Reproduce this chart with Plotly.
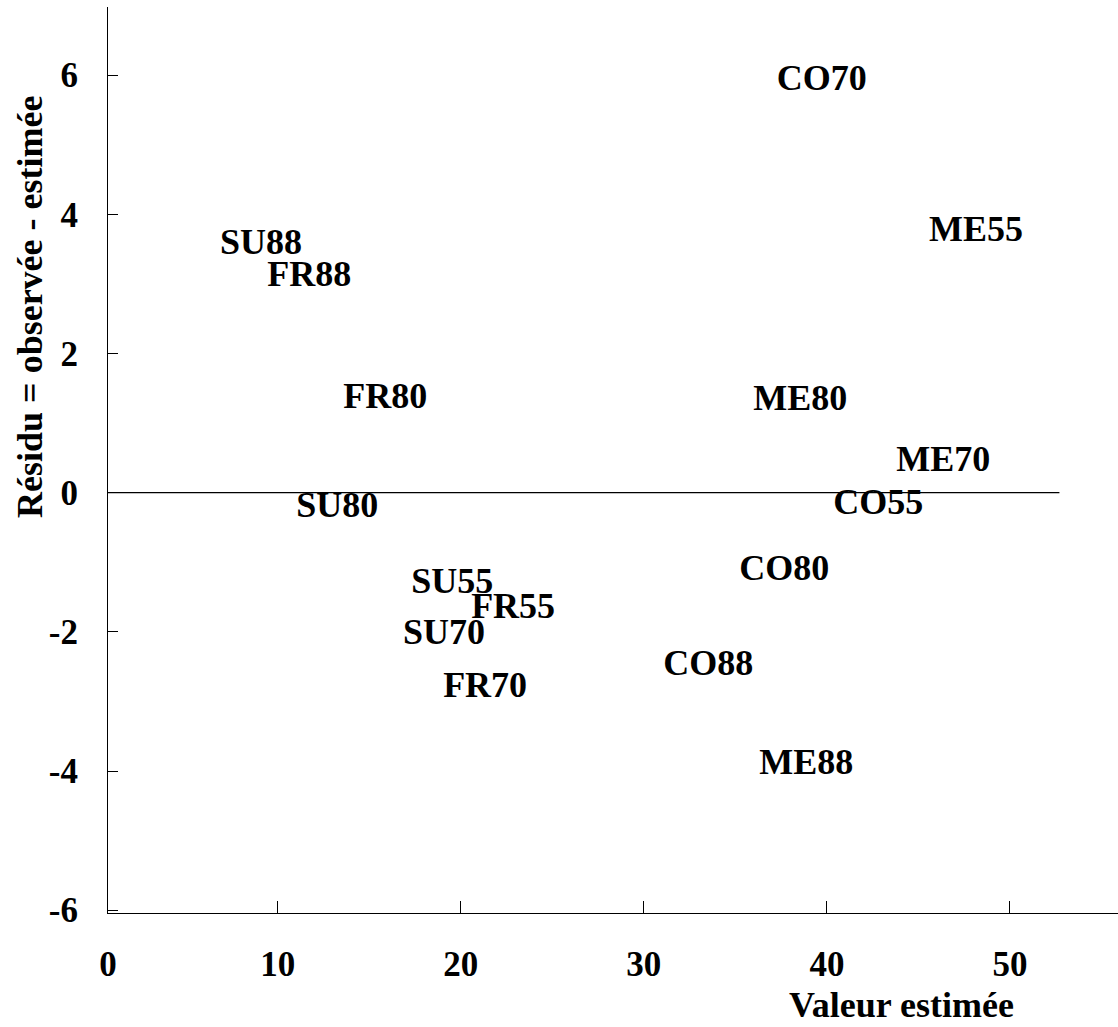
import plotly.graph_objects as go

# Data
labels = ["CO70", "ME55", "SU88", "FR88", "FR80", "SU80", "SU55", "FR55",
          "SU70", "FR70", "ME80", "ME70", "CO55", "CO80", "CO88", "ME88"]
estimated = [39.72, 48.14, 9.09, 11.72, 15.87, 13.25, 19.53, 22.86,
             19.09, 21.33, 38.55, 46.36, 42.81, 37.67, 33.52, 38.87]
residual = [5.92, 3.75, 3.56, 3.10, 1.35, -0.22, -1.31, -1.67,
            -2.05, -2.81, 1.32, 0.44, -0.18, -1.13, -2.49, -3.91]

x_range = [0.73, 55.9]
y_range = [-6.04, 6.98]
x_ticks = [x_range[0], 10, 20, 30, 40, 50]
x_ticktext = ["0", "10", "20", "30", "40", "50"]
y_ticks = [-6, -4, -2, 0, 2, 4, 6]
y_ticktext = ["-6", "-4", "-2", "0", "2", "4", "6"]
zero_line_end = 52.7

FONT = "Liberation Serif, Times New Roman, serif"

fig = go.Figure()
fig.add_trace(go.Scatter(
    x=estimated, y=residual, text=labels, mode="text",
    textposition="middle center",
    textfont=dict(family=FONT, size=36, color="black", weight="bold"),
    showlegend=False, hoverinfo="skip",
))

fig.add_shape(type="line", xref="x", yref="y",
              x0=x_range[0], x1=zero_line_end, y0=0, y1=0,
              line=dict(color="black", width=1.2), layer="below")

axis_common = dict(
    showgrid=False, zeroline=False, showline=True, linecolor="black",
    linewidth=1.2, ticks="inside", tickcolor="black", tickwidth=1.2,
    tickfont=dict(family=FONT, size=35, color="black", weight="bold"),
)
fig.update_xaxes(range=x_range, tickvals=x_ticks, ticktext=x_ticktext,
                 ticklen=12, ticklabelstandoff=20, **axis_common)
fig.update_yaxes(range=y_range, tickvals=y_ticks, ticktext=y_ticktext,
                 ticklen=10, ticklabelstandoff=22, **axis_common)

fig.add_annotation(text="Valeur estimée", xref="paper", yref="paper",
                   x=0.786, y=-0.101, xanchor="center", yanchor="middle",
                   showarrow=False,
                   font=dict(family=FONT, size=36, color="black", weight="bold"))
fig.add_annotation(text="Résidu = observée - estimée", xref="paper", yref="paper",
                   x=-0.0772, y=0.669, xanchor="center", yanchor="middle",
                   textangle=-90, showarrow=False,
                   font=dict(family=FONT, size=36, color="black", weight="bold"))

fig.update_layout(
    width=1118, height=1027,
    margin=dict(l=108, r=0, t=7, b=114),
    paper_bgcolor="white", plot_bgcolor="white",
)

fig.write_html("out.html")
